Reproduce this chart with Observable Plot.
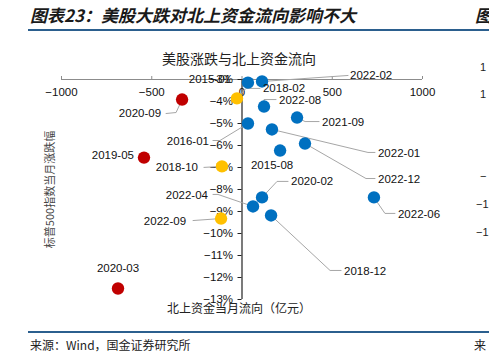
<!DOCTYPE html>
<html>
<head>
<meta charset="utf-8">
<script src="https://cdn.jsdelivr.net/npm/d3@7"></script>
<script src="https://cdn.jsdelivr.net/npm/@observablehq/plot@0.6"></script>
<style>
  html, body { margin: 0; padding: 0; background: #fff; }
  #wrap { position: relative; width: 489px; height: 358px; overflow: hidden; font-family: "Noto Sans CJK SC", sans-serif; }
  .abs { position: absolute; line-height: 1; white-space: nowrap; }
  #title { left: 30px; top: 6px; font-size: 17px; font-weight: bold; font-style: italic; color: #1a1a1a; }
  #sub { left: 0; width: 478px; top: 51px; text-align: center; font-size: 14px; color: #222; }
  #src { left: 30px; top: 339px; font-size: 12px; color: #222; }
  .edge { font-family: "Liberation Sans", Arial, sans-serif; font-size: 11px; color: #222; }
  #chart { position: absolute; left: 0; top: 64px; }
  #chart svg { overflow: visible; }
</style>
</head>
<body>
<div id="wrap">
  <div class="abs" id="title">图表23：美股大跌对北上资金流向影响不大</div>
  <div class="abs" style="left:475px;top:6px;font-size:17px;font-weight:bold;font-style:italic;color:#1a1a1a">图</div>
  <div class="abs" style="left:28px;top:29px;width:461px;height:2px;background:#2b5f8e"></div>
  <div class="abs" id="sub">美股涨跌与北上资金流向</div>
  <div id="chart"></div>
  <div class="abs edge" style="left:480px;top:62px">1</div>
  <div class="abs edge" style="left:480px;top:89px">1</div>
  <div class="abs edge" style="left:480px;top:171px">−</div>
  <div class="abs edge" style="left:476px;top:199px">−1</div>
  <div class="abs edge" style="left:476px;top:227px">−1</div>
  <div class="abs" style="left:28px;top:331px;width:461px;height:2px;background:#2b5f8e"></div>
  <div class="abs" id="src">来源：Wind，国金证券研究所</div>
  <div class="abs" style="left:474px;top:339px;font-size:12px;color:#222">来</div>
</div>
<script>
// ---- data ----
const months  = ["2015-01","2022-02","2018-02","2020-09","2022-08","2021-09","2016-01","2022-01","2022-12",
                 "2015-08","2019-05","2018-10","2020-02","2022-04","2018-12","2022-06","2022-09","2020-03"];
const flows   = [33, 111, -28, -332, 122, 305, 33, 166, 349, 211, -543, -111, 111, 61, 161, 731, -116, -687];
const returns = [-3.14, -3.09, -3.86, -3.91, -4.23, -4.73, -5.0, -5.27, -5.91, -6.23, -6.55, -6.95, -8.36, -8.77, -9.18, -8.36, -9.32, -12.5];
const groups  = ["blue","blue","yellow","red","blue","blue","blue","blue","blue",
                 "blue","red","yellow","blue","blue","blue","blue","yellow","red"];
const xTicks = [-1000, -500, 0, 500, 1000];
const yTicks = [-3, -4, -5, -6, -7, -8, -9, -10, -11, -12, -13];

// ---- styling / layout (pixel offsets of labels relative to their point) ----
const palette = {blue: "#0070C0", red: "#C00000", yellow: "#FFC000"};
const labelLayout = {
  "2015-01": {dx: -17, dy: -3, anchor: "end"},
  "2022-02": {dx: 88, dy: -6, anchor: "start", lead: [[86, -6]]},
  "2018-02": {dx: 26, dy: -10, anchor: "start", lead: [[9, -10], [23, -10]]},
  "2020-09": {dx: -21, dy: 14, anchor: "end", lead: [[-6, 13], [-16, 14]]},
  "2022-08": {dx: 15, dy: -6, anchor: "start", lead: [[0, -7], [12, -7]]},
  "2021-09": {dx: 25, dy: 5, anchor: "start", lead: [[8, 4], [22, 4]]},
  "2016-01": {dx: -39, dy: 18, anchor: "end", lead: [[-28, 17], [-35, 17]]},
  "2022-01": {dx: 106, dy: 24, anchor: "start", lead: [[96, 23], [103, 23]]},
  "2022-12": {dx: 73, dy: 36, anchor: "start", lead: [[61, 35], [70, 35]]},
  "2015-08": {dx: -8, dy: 15, anchor: "middle"},
  "2019-05": {dx: -10, dy: -2, anchor: "end"},
  "2018-10": {dx: -24, dy: 1, anchor: "end", lead: [[-18, 1]]},
  "2020-02": {dx: 29, dy: -16, anchor: "start", lead: [[15, -16], [26, -16]]},
  "2022-04": {dx: -45, dy: -11, anchor: "end", lead: [[-35, -12], [-40, -12]]},
  "2018-12": {dx: 73, dy: 56, anchor: "start", lead: [[59, 55], [70, 55]]},
  "2022-06": {dx: 24, dy: 17, anchor: "start", lead: [[11, 16], [21, 16]]},
  "2022-09": {dx: -35, dy: 3, anchor: "end", lead: [[-28, 2]]},
  "2020-03": {dx: 0, dy: -20, anchor: "middle"}
};

const W = 489, H = 252, mT = 15, mB = 17, mL = 61, mR = 67;
const xDomain = [-1000, 1000], yDomain = [-13, -3];
const kx = (W - mL - mR) / (xDomain[1] - xDomain[0]);   // px per unit
const ky = (H - mT - mB) / (yDomain[1] - yDomain[0]);   // px per %

const points = months.map((m, i) => ({month: m, x: flows[i], y: returns[i], g: groups[i]}));
const labels = points.map(p => {
  const L = labelLayout[p.month];
  return {text: p.month, x: p.x + L.dx / kx, y: p.y - L.dy / ky, anchor: L.anchor};
});
const leaders = [];
points.forEach(p => {
  const L = labelLayout[p.month];
  if (!L.lead) return;
  leaders.push({id: p.month, x: p.x, y: p.y});
  L.lead.forEach(([dx, dy]) => leaders.push({id: p.month, x: p.x + dx / kx, y: p.y - dy / ky}));
});
const fmtMinus = v => (v < 0 ? "−" : "") + Math.abs(v);

const chart = Plot.plot({
  width: W, height: H,
  marginTop: mT, marginBottom: mB, marginLeft: mL, marginRight: mR,
  x: {domain: xDomain, axis: null},
  y: {domain: yDomain, axis: null},
  style: {fontFamily: "'Liberation Sans', Arial, sans-serif", fontSize: "11px", background: "transparent", color: "#000"},
  marks: [
    // x axis (at top, y = -3%)
    Plot.ruleY([-3], {x1: -1000, x2: 1000, stroke: "#8c8c8c", strokeWidth: 1.2}),
    Plot.ruleX(xTicks, {x: d => d, y1: -3, y2: -3 + 3 / ky, stroke: "#8c8c8c"}),
    Plot.text(xTicks, {x: d => d, y: -3, dy: 13, text: d => fmtMinus(d), fontSize: 11.5, fill: "#111"}),
    // y axis (at x = 0)
    Plot.ruleX([0], {y1: -3, y2: -13, stroke: "#222", strokeWidth: 1.2}),
    Plot.ruleY(yTicks, {y: d => d, x1: 0, x2: -4 / kx, stroke: "#222"}),
    Plot.text(yTicks, {x: 0, y: d => d, dx: -9, textAnchor: "end", text: d => fmtMinus(d) + "%", fontSize: 11.5, fill: "#111"}),
    // axis titles
    Plot.text(["北上资金当月流向（亿元）"], {frameAnchor: "bottom", dy: 13, dx: -3, text: d => d,
      fontFamily: "'Noto Sans CJK SC', sans-serif", fontSize: 12, fill: "#222"}),
    Plot.text(["标普500指数当月涨跌幅"], {frameAnchor: "left", dx: -11, rotate: -90, textAnchor: "middle", text: d => d,
      fontFamily: "'Noto Sans CJK SC', sans-serif", fontSize: 11, fill: "#444"}),
    // leader lines
    Plot.line(leaders, {x: "x", y: "y", z: "id", stroke: "#a6a6a6", strokeWidth: 1}),
    // points
    Plot.dot(points, {x: "x", y: "y", r: 6.2, fill: d => palette[d.g], stroke: "none"}),
    // point labels
    Plot.text(labels.filter(d => d.anchor === "start"), {x: "x", y: "y", text: "text", textAnchor: "start", fontSize: 11.5, fill: "#111"}),
    Plot.text(labels.filter(d => d.anchor === "end"), {x: "x", y: "y", text: "text", textAnchor: "end", fontSize: 11.5, fill: "#111"}),
    Plot.text(labels.filter(d => d.anchor === "middle"), {x: "x", y: "y", text: "text", textAnchor: "middle", fontSize: 11.5, fill: "#111"})
  ]
});
document.getElementById("chart").appendChild(chart);
</script>
</body>
</html>
